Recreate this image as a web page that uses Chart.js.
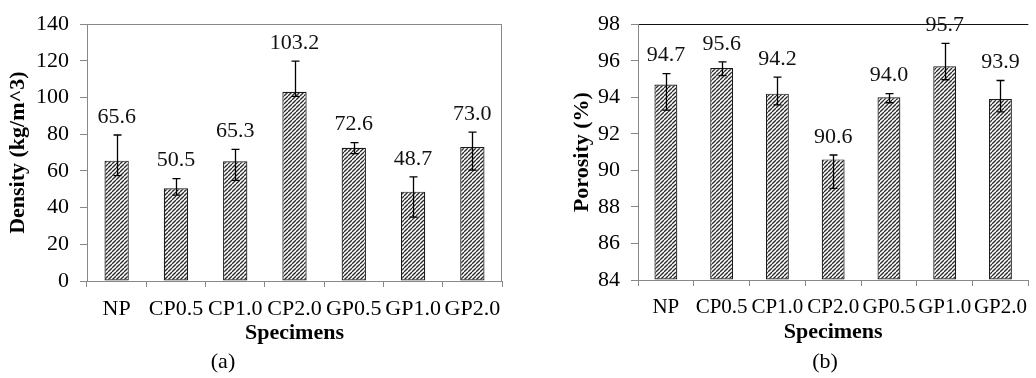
<!DOCTYPE html>
<html><head><meta charset="utf-8">
<script src="https://cdn.jsdelivr.net/npm/chart.js@4.4.1/dist/chart.umd.min.js"></script>
<style>
body{margin:0;background:#fff;width:1036px;height:378px;overflow:hidden;position:relative;font-family:'Liberation Serif','Times New Roman',serif;}
canvas{position:absolute;top:0;}
.cap{position:absolute;font-size:22px;line-height:22px;transform:translateX(-50%);color:#000;white-space:nowrap;}
</style></head><body>
<canvas id="ca" width="520" height="378" style="left:0"></canvas>
<canvas id="cb" width="516" height="378" style="left:520px"></canvas>
<div class="cap" style="left:223px;top:350px">(a)</div>
<div class="cap" style="left:825px;top:350px">(b)</div>
<script>
const categories = ['NP','CP0.5','CP1.0','CP2.0','GP0.5','GP1.0','GP2.0'];

const densityValues  = [65.6, 50.5, 65.3, 103.2, 72.6, 48.7, 73.0];
const densityErrHigh = [79.6, 55.8, 71.8, 119.9, 75.4, 56.8, 81.2];
const densityErrLow  = [57.5, 46.8, 54.9, 100.6, 69.4, 34.8, 60.5];
const densityAxis = {min: 0, max: 140, step: 20};

const porosityValues  = [94.7, 95.6, 94.2, 90.6, 94.0, 95.7, 93.9];
const porosityErrHigh = [95.3, 95.94, 95.1, 90.84, 94.2, 96.95, 94.92];
const porosityErrLow  = [93.3, 95.19, 93.58, 89.01, 93.7, 94.96, 93.2];
const porosityAxis = {min: 84, max: 98, step: 2};

const FONT = "'Liberation Serif', 'Times New Roman', serif";
const FS = 22;

function hatch(){
  const c = document.createElement('canvas');
  c.width = 4; c.height = 4;
  const g = c.getContext('2d');
  g.fillStyle = '#fff'; g.fillRect(0,0,4,4);
  g.strokeStyle = '#2a2a2a'; g.lineWidth = 1.3;
  [-4,0,4].forEach(o=>{ g.beginPath(); g.moveTo(o,4); g.lineTo(o+4,0); g.stroke(); });
  return c;
}

const errorBarPlugin = {
  id: 'errbars',
  afterDatasetsDraw(chart, args, opts){
    const meta = chart.getDatasetMeta(0);
    const y = chart.scales.y;
    const ctx = chart.ctx;
    const vals = chart.data.datasets[0].data;
    ctx.save();
    ctx.strokeStyle = '#000'; ctx.lineWidth = 1.3;
    meta.data.forEach((bar, i) => {
      const x = Math.round(bar.x) + 0.5;
      const yh = y.getPixelForValue(opts.high[i]);
      const yl = y.getPixelForValue(opts.low[i]);
      ctx.beginPath();
      ctx.moveTo(x, yh); ctx.lineTo(x, yl);
      ctx.moveTo(x-4, yh); ctx.lineTo(x+4, yh);
      ctx.moveTo(x-4, yl); ctx.lineTo(x+4, yl);
      ctx.stroke();
      ctx.fillStyle = '#111';
      ctx.font = FS + 'px ' + FONT;
      ctx.textAlign = 'center'; ctx.textBaseline = 'middle';
      ctx.fillText(vals[i].toFixed(1), bar.x, yh - opts.gap);
    });
    if (opts.rightBorder) {
      const a = chart.chartArea;
      ctx.strokeStyle = opts.rightBorder; ctx.lineWidth = 1;
      ctx.beginPath(); ctx.moveTo(Math.round(a.right)-0.5, a.top); ctx.lineTo(Math.round(a.right)-0.5, a.bottom); ctx.stroke();
    }
    ctx.restore();
  }
};

function makeChart(id, values, hi, lo, axis, yTitle, geo){
  const ctx = document.getElementById(id).getContext('2d');
  const pat = ctx.createPattern(hatch(), 'repeat');
  return new Chart(ctx, {
    type: 'bar',
    data: { labels: categories, datasets: [{
      data: values, backgroundColor: pat, borderColor: '#1a1a1a', borderWidth: 1.2,
      borderSkipped: false, base: axis.min,
      categoryPercentage: 1.0, barPercentage: 0.41
    }]},
    options: {
      responsive: false, animation: false, devicePixelRatio: 1,
      layout: { padding: { top: geo.top, right: geo.right, bottom: geo.bottom, left: 0 } },
      plugins: {
        legend: {display: false}, tooltip: {enabled: false},
        errbars: { high: hi, low: lo, gap: 18, rightBorder: geo.rightBorder }
      },
      scales: {
        x: {
          afterFit: s => { s.height = geo.xh; },
          grid: { offset: true, drawOnChartArea: false, drawTicks: true, tickLength: 6, tickColor: '#888' },
          border: { display: true, color: '#888', width: 1 },
          ticks: { color: '#000', padding: 9, font: {family: FONT, size: geo.xfs}, maxRotation: 0, autoSkip: false },
          title: { display: true, text: 'Specimens', color: '#000', padding: {top: 0, bottom: 0},
                   font: {family: FONT, size: FS, weight: 'bold'} }
        },
        y: {
          min: axis.min, max: axis.max,
          afterFit: s => { s.width = geo.yw; },
          grid: { drawOnChartArea: true, drawTicks: true, tickLength: 7, tickColor: '#888',
                  color: c => (c.tick && c.tick.value === axis.max) ? geo.topColor : 'rgba(0,0,0,0)' },
          border: { display: true, color: '#888', width: 1 },
          ticks: { stepSize: axis.step, color: '#000', padding: 11, font: {family: FONT, size: FS} },
          title: { display: true, text: yTitle, color: '#000', padding: {top: geo.titlePad, bottom: 0},
                   font: {family: FONT, size: FS, weight: 'bold'} }
        }
      }
    },
    plugins: [errorBarPlugin]
  });
}

makeChart('ca', densityValues, densityErrHigh, densityErrLow, densityAxis, 'Density (kg/m^3)',
  {top: 17, right: 18, bottom: 31, xh: 66, yw: 87, titlePad: 5, topColor: '#888', rightBorder: '#888', xfs: 22});
makeChart('cb', porosityValues, porosityErrHigh, porosityErrLow, porosityAxis, 'Porosity (%)',
  {top: 19, right: 0, bottom: 32, xh: 66, yw: 118, titlePad: 49, topColor: '#111', rightBorder: null, xfs: 21});
</script>
</body></html>
